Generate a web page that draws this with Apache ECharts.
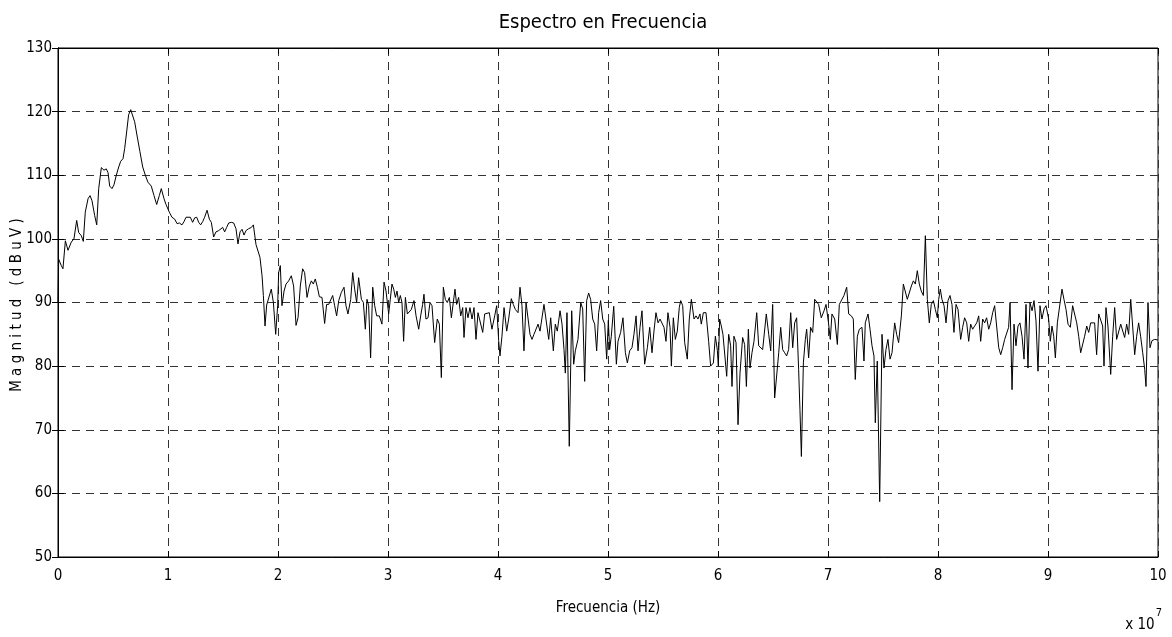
<!DOCTYPE html>
<html>
<head>
<meta charset="utf-8">
<script src="https://cdn.jsdelivr.net/npm/echarts@6/dist/echarts.min.js"></script>
<style>
  html, body { margin: 0; padding: 0; background: #fff; }
  #chart { width: 1172px; height: 637px; }
</style>
</head>
<body>
<div id="chart"></div>
<script>
// Espectro en frecuencia: [frecuencia (x 10^7 Hz), magnitud (dBuV)]
var banda0 = [[0.000,90],[0.006,96.8],[0.030,95.8],[0.045,95.3],[0.067,99.7],[0.091,98.2],[0.121,99.5],[0.145,100],[0.170,102.9],[0.188,101],[0.212,100.5],[0.230,99.6],[0.248,104.2],[0.273,106.3],[0.291,106.8],[0.309,106],[0.333,103.7],[0.352,102.2],[0.370,107.9],[0.394,111.2],[0.418,110.8],[0.439,111],[0.455,110.4],[0.470,108.3],[0.491,107.9],[0.509,108.5],[0.530,110],[0.552,111.3],[0.570,112.2],[0.591,112.6],[0.606,114.2],[0.624,116.8],[0.642,119.5],[0.661,120.3],[0.679,120],[0.697,118.4],[0.721,116],[0.745,113.7],[0.770,111.3],[0.794,110],[0.818,108.9],[0.848,108.3],[0.873,106.8],[0.897,105.4],[0.921,106.8],[0.939,107.9],[0.964,106.3],[0.982,105.4]];
var banda1 = [[1.012,104.2],[1.036,103.4],[1.061,103.1],[1.082,102.4],[1.103,102.5],[1.127,102.2],[1.145,102.7],[1.164,103.4],[1.182,103.2],[1.203,103.4],[1.224,102.6],[1.242,103.3],[1.261,103.4],[1.279,102.6],[1.297,102.2],[1.315,102.7],[1.333,103.4],[1.355,104.5],[1.376,103.1],[1.394,102.6],[1.415,100.3],[1.436,101.1],[1.461,101.3],[1.479,101.3],[1.497,101.8],[1.515,101.1],[1.533,101.8],[1.552,102.5],[1.576,102.6],[1.597,102.5],[1.618,101.6],[1.636,99.2],[1.655,101.1],[1.673,101.5],[1.691,100.6],[1.709,101.3],[1.733,101.6],[1.758,101.8],[1.776,102.2],[1.800,99.1],[1.818,98.9],[1.836,97.1],[1.855,94.2],[1.867,91.1],[1.882,86.3],[1.897,89.6],[1.915,89.7],[1.939,92.1],[1.958,90],[1.979,85],[1.997,89.5]];
var banda2 = [[2.006,94.7],[2.021,95.8],[2.036,89.5],[2.055,91.8],[2.073,92.9],[2.097,93.4],[2.121,94.2],[2.142,92.6],[2.164,86.4],[2.182,87.6],[2.203,92.6],[2.224,95.3],[2.242,94.7],[2.264,90.8],[2.285,92.6],[2.303,93.4],[2.321,92.9],[2.339,93.7],[2.358,92.4],[2.376,90.9],[2.400,90.8],[2.424,86.7],[2.442,89.7],[2.461,89.7],[2.479,89.5],[2.497,91.1],[2.515,89.5],[2.533,87.9],[2.552,90.3],[2.576,91.6],[2.600,92.4],[2.618,89.5],[2.636,88.2],[2.661,90.5],[2.679,94.7],[2.697,92.1],[2.715,90],[2.733,93.9],[2.758,90.5],[2.776,90],[2.794,85.8],[2.809,90.5],[2.824,89.5],[2.842,81.3],[2.861,92.4],[2.879,89.5],[2.897,87.9],[2.921,87.9],[2.945,86.6],[2.964,93.2],[2.982,91.8]];
var banda3 = [[3.006,88.2],[3.021,90.5],[3.036,92.9],[3.052,92.1],[3.067,90.8],[3.082,91.8],[3.097,90],[3.112,91.1],[3.127,90],[3.142,83.9],[3.158,90.8],[3.176,88.2],[3.194,88.4],[3.212,88.9],[3.236,90.3],[3.255,87.9],[3.279,85.8],[3.297,87.9],[3.315,89.7],[3.327,91.3],[3.345,87.4],[3.364,87.6],[3.382,90],[3.400,89.5],[3.424,83.7],[3.448,87.4],[3.467,86.6],[3.485,78.2],[3.503,92.4],[3.521,90.5],[3.539,90],[3.558,90.8],[3.576,87.6],[3.594,87.4],[3.609,92.1],[3.624,89.7],[3.642,90.8],[3.661,87.9],[3.679,89.2],[3.691,84.5],[3.709,89.2],[3.727,87.6],[3.745,89.2],[3.764,87.4],[3.782,89.2],[3.800,84.2],[3.818,88.4],[3.836,88.7],[3.861,85.3],[3.879,88.2],[3.897,88.4],[3.921,88.4],[3.945,85.8],[3.970,87.9],[3.988,89.5]];
var banda4 = [[4.006,84],[4.018,81.6],[4.036,84.7],[4.055,89.2],[4.079,85.5],[4.097,87.4],[4.121,90.6],[4.139,89.7],[4.158,88.9],[4.182,88.4],[4.200,92.4],[4.218,89.5],[4.236,82.4],[4.255,90],[4.273,89.7],[4.291,85],[4.309,84.2],[4.327,85],[4.345,84.7],[4.364,86.6],[4.382,85.5],[4.400,85.5],[4.418,89.7],[4.436,87.4],[4.461,84.2],[4.479,87.6],[4.503,82.4],[4.521,86.6],[4.539,85.5],[4.564,88.7],[4.582,86.6],[4.600,82.6],[4.612,78.9],[4.627,88.4],[4.648,67.4],[4.670,88.7],[4.688,80.3],[4.703,82.4],[4.727,84.2],[4.752,90],[4.770,89],[4.788,77.6],[4.806,90.3],[4.824,91.5],[4.842,90.5],[4.861,87.4],[4.879,86.6],[4.897,82.4],[4.915,88.4],[4.933,90.3],[4.952,87.4],[4.970,86.6],[4.988,81.1]];
var banda5 = [[5.003,87.2],[5.015,82.6],[5.030,84.7],[5.052,89.4],[5.076,80.3],[5.091,83.9],[5.115,85.3],[5.136,87.6],[5.158,82.1],[5.176,80.5],[5.197,82.4],[5.218,82.9],[5.236,85],[5.255,87.9],[5.273,82.4],[5.291,86.1],[5.309,88.7],[5.333,80.3],[5.358,82.9],[5.379,86.1],[5.400,82.1],[5.418,85.5],[5.436,88.4],[5.455,86.8],[5.473,87.4],[5.491,87.1],[5.509,86.1],[5.527,83.9],[5.545,88.4],[5.564,86.1],[5.576,80],[5.594,87.6],[5.612,84.2],[5.630,85.5],[5.648,89.2],[5.661,90.3],[5.679,89.5],[5.697,83.7],[5.721,81.1],[5.739,87.4],[5.758,90.5],[5.770,90.8],[5.782,87.4],[5.800,87.9],[5.818,87.4],[5.836,88.2],[5.848,86.6],[5.867,88.4],[5.891,88.4],[5.915,83.9],[5.933,80],[5.958,80.5],[5.976,84.7],[5.994,82.5]];
var banda6 = [[6.003,80],[6.015,87.4],[6.030,86.3],[6.045,85],[6.061,84.8],[6.079,78.4],[6.097,85],[6.115,83.2],[6.127,76.8],[6.145,84.7],[6.164,83.7],[6.182,70.8],[6.200,78.9],[6.224,84.5],[6.242,83.4],[6.258,76.8],[6.276,85.8],[6.291,79.7],[6.309,82.1],[6.327,83.9],[6.352,88.4],[6.370,83.2],[6.388,83.4],[6.406,82.6],[6.424,82.4],[6.439,88.2],[6.461,85],[6.479,82.4],[6.497,89.7],[6.515,75],[6.533,75.3],[6.552,82.1],[6.570,86.1],[6.588,82.6],[6.606,82.1],[6.624,81.6],[6.642,82.6],[6.661,88.4],[6.679,82.9],[6.697,86.8],[6.715,87.6],[6.733,79.5],[6.745,73.2],[6.758,65.8],[6.776,80.5],[6.794,84.2],[6.806,85.8],[6.824,81.3],[6.842,86.1],[6.861,85.3],[6.879,90.5],[6.897,90.3],[6.915,89.7],[6.939,87.6],[6.964,88.7],[6.982,89.7]];
var banda7 = [[7.003,87],[7.021,84.2],[7.036,88.2],[7.061,87.4],[7.085,83.4],[7.103,89.7],[7.121,89.5],[7.145,91.1],[7.170,92.4],[7.188,88.2],[7.212,87.9],[7.230,87.4],[7.248,77.9],[7.267,84.7],[7.285,85.8],[7.309,86.1],[7.327,80.8],[7.339,86.8],[7.364,88.2],[7.382,85.8],[7.400,83.2],[7.418,81.6],[7.430,71.1],[7.448,80.8],[7.470,58.7],[7.491,85],[7.509,79.7],[7.527,82.6],[7.545,84.2],[7.564,81.1],[7.582,82.1],[7.606,86.8],[7.624,85],[7.642,83.7],[7.667,87.9],[7.685,92.9],[7.703,93.2],[7.721,90.5],[7.739,90.5],[7.758,92.6],[7.776,93.4],[7.794,92.9],[7.812,95],[7.830,92.9],[7.848,91.8],[7.867,91.1],[7.885,100.5],[7.903,90.5],[7.921,86.8],[7.939,89.7],[7.958,90.3],[7.976,88.9],[7.994,87.6]];
var banda8 = [[8.006,90.5],[8.021,92.1],[8.036,90.5],[8.055,89.5],[8.073,86.8],[8.091,90.3],[8.109,91.1],[8.127,89.7],[8.145,85.3],[8.164,89.7],[8.182,88.9],[8.206,84.2],[8.224,86.1],[8.242,87.6],[8.261,86.8],[8.279,83.9],[8.297,86.6],[8.315,85.8],[8.333,86.3],[8.352,86.8],[8.370,87.9],[8.388,83.9],[8.406,87.4],[8.424,86.8],[8.442,87.6],[8.461,85.8],[8.479,86.8],[8.497,88.4],[8.515,89.5],[8.533,86.3],[8.552,82.9],[8.570,81.8],[8.588,82.9],[8.606,84.2],[8.624,83.9],[8.642,86.1],[8.655,90],[8.673,76.3],[8.691,86.6],[8.709,83.2],[8.727,86.3],[8.745,86.8],[8.764,84.7],[8.782,81.1],[8.800,89.7],[8.818,79.7],[8.836,90],[8.855,88.7],[8.873,90.3],[8.891,87.1],[8.909,79.2],[8.927,89.5],[8.945,87.4],[8.964,89],[8.982,89.5]];
var banda9 = [[9.006,87.4],[9.021,83.9],[9.036,86.3],[9.052,84.7],[9.067,81.3],[9.085,86.8],[9.103,87.1],[9.127,92.1],[9.145,90.5],[9.164,88.9],[9.182,86.6],[9.203,86.1],[9.224,89.5],[9.242,89.7],[9.261,86.8],[9.279,84.7],[9.297,82.1],[9.315,82.4],[9.333,84.7],[9.352,86.3],[9.370,85.3],[9.388,86.8],[9.406,86.8],[9.424,86.8],[9.442,81.8],[9.461,88.2],[9.479,87.9],[9.497,86.3],[9.509,80],[9.527,89.2],[9.545,86.3],[9.570,78.7],[9.588,84.7],[9.606,89.2],[9.624,84.2],[9.642,84.5],[9.661,86.6],[9.679,86.3],[9.697,84.5],[9.715,86.6],[9.733,85],[9.752,90.5],[9.770,90.5],[9.788,81.8],[9.806,84.7],[9.824,86.8],[9.842,84.7],[9.861,82.1],[9.879,79.5],[9.891,76.8],[9.909,90],[9.927,82.9],[9.945,84],[9.970,84.2],[10.0,84.1]];

var ticksX = [0, 1, 2, 3, 4, 5, 6, 7, 8, 9, 10];
var ticksY = [50, 60, 70, 80, 90, 100, 110, 120, 130];

var titulo = "Espectro en Frecuencia";
var nombreX = "Frecuencia (Hz)";
var nombreY = "M a g n i t u d   ( d B u V )";

var espectro = [].concat(banda0, banda1, banda2, banda3, banda4, banda5, banda6, banda7, banda8, banda9);

var fuente = "'Liberation Sans Narrow', 'DejaVu Sans Condensed', 'Liberation Sans', sans-serif";

var grafico = echarts.init(document.getElementById("chart"));
var option = {
  animation: false,
  backgroundColor: "#fff",
  title: {
    text: titulo,
    left: 598,
    top: 8,
    textAlign: "center",
    textStyle: { fontFamily: fuente, fontSize: 20, fontWeight: "normal", color: "#000" },
  },
  grid: {
    left: 58,
    right: 14,
    top: 48,
    bottom: 80,
    containLabel: false,
    outerBoundsMode: "none",
    show: true,
    borderColor: "#000",
    borderWidth: 1,
    backgroundColor: "#fff",
  },
  xAxis: [
    {
      type: "value",
      min: ticksX[0],
      max: ticksX[ticksX.length - 1],
      interval: 1,
      name: nombreX,
      nameLocation: "middle",
      nameGap: 44,
      nameTextStyle: { fontFamily: fuente, fontSize: 15, color: "#000" },
      axisLine: { show: true, onZero: false, lineStyle: { color: "#000", width: 1 } },
      axisTick: { show: true, inside: true, length: 6, lineStyle: { color: "#000" } },
      axisLabel: { fontFamily: fuente, fontSize: 15, color: "#000", margin: 12 },
      splitLine: { show: true, lineStyle: { color: "#333", type: [8, 6], width: 1 } },
    },
    {
      type: "value",
      position: "top",
      min: ticksX[0],
      max: ticksX[ticksX.length - 1],
      interval: 1,
      axisLine: { show: true, lineStyle: { color: "#000" } },
      axisTick: { show: true, inside: true, length: 6, lineStyle: { color: "#000" } },
      axisLabel: { show: false },
      splitLine: { show: false },
    },
  ],
  yAxis: [
    {
      type: "value",
      min: ticksY[0],
      max: ticksY[ticksY.length - 1],
      interval: 10,
      axisLine: { show: true, onZero: false, lineStyle: { color: "#000", width: 1 } },
      axisTick: { show: true, inside: true, length: 6, lineStyle: { color: "#000" } },
      axisLabel: { fontFamily: fuente, fontSize: 15, color: "#000", margin: 6 },
      splitLine: { show: true, lineStyle: { color: "#333", type: [8, 6], width: 1 } },
    },
    {
      type: "value",
      position: "right",
      min: ticksY[0],
      max: ticksY[ticksY.length - 1],
      interval: 10,
      axisLine: { show: true, lineStyle: { color: "#000" } },
      axisTick: { show: true, inside: true, length: 6, lineStyle: { color: "#000" } },
      axisLabel: { show: false },
      splitLine: { show: false },
    },
  ],
  graphic: [
    {
      // nombre del eje Y
      type: "text",
      x: 17,
      y: 305,
      rotation: Math.PI / 2,
      style: {
        text: nombreY,
        fontFamily: fuente,
        fontSize: 15,
        fill: "#000",
        align: "center",
        verticalAlign: "middle",
      },
    },
    {
      type: "text",
      right: 10,
      bottom: 4,
      style: {
        text: "{b|x 10}{s|7}",
        rich: {
          b: { fontFamily: fuente, fontSize: 15, color: "#000", verticalAlign: "bottom" },
          s: { fontFamily: fuente, fontSize: 11, color: "#000", verticalAlign: "top", padding: [0, 0, 14, 1] },
        },
      },
    },
  ],
  series: [
    {
      name: "Espectro",
      type: "line",
      data: espectro,
      showSymbol: false,
      smooth: false,
      lineStyle: { color: "#000", width: 1 },
      itemStyle: { color: "#000" },
    },
  ],
};
grafico.setOption(option);
</script>
</body>
</html>
